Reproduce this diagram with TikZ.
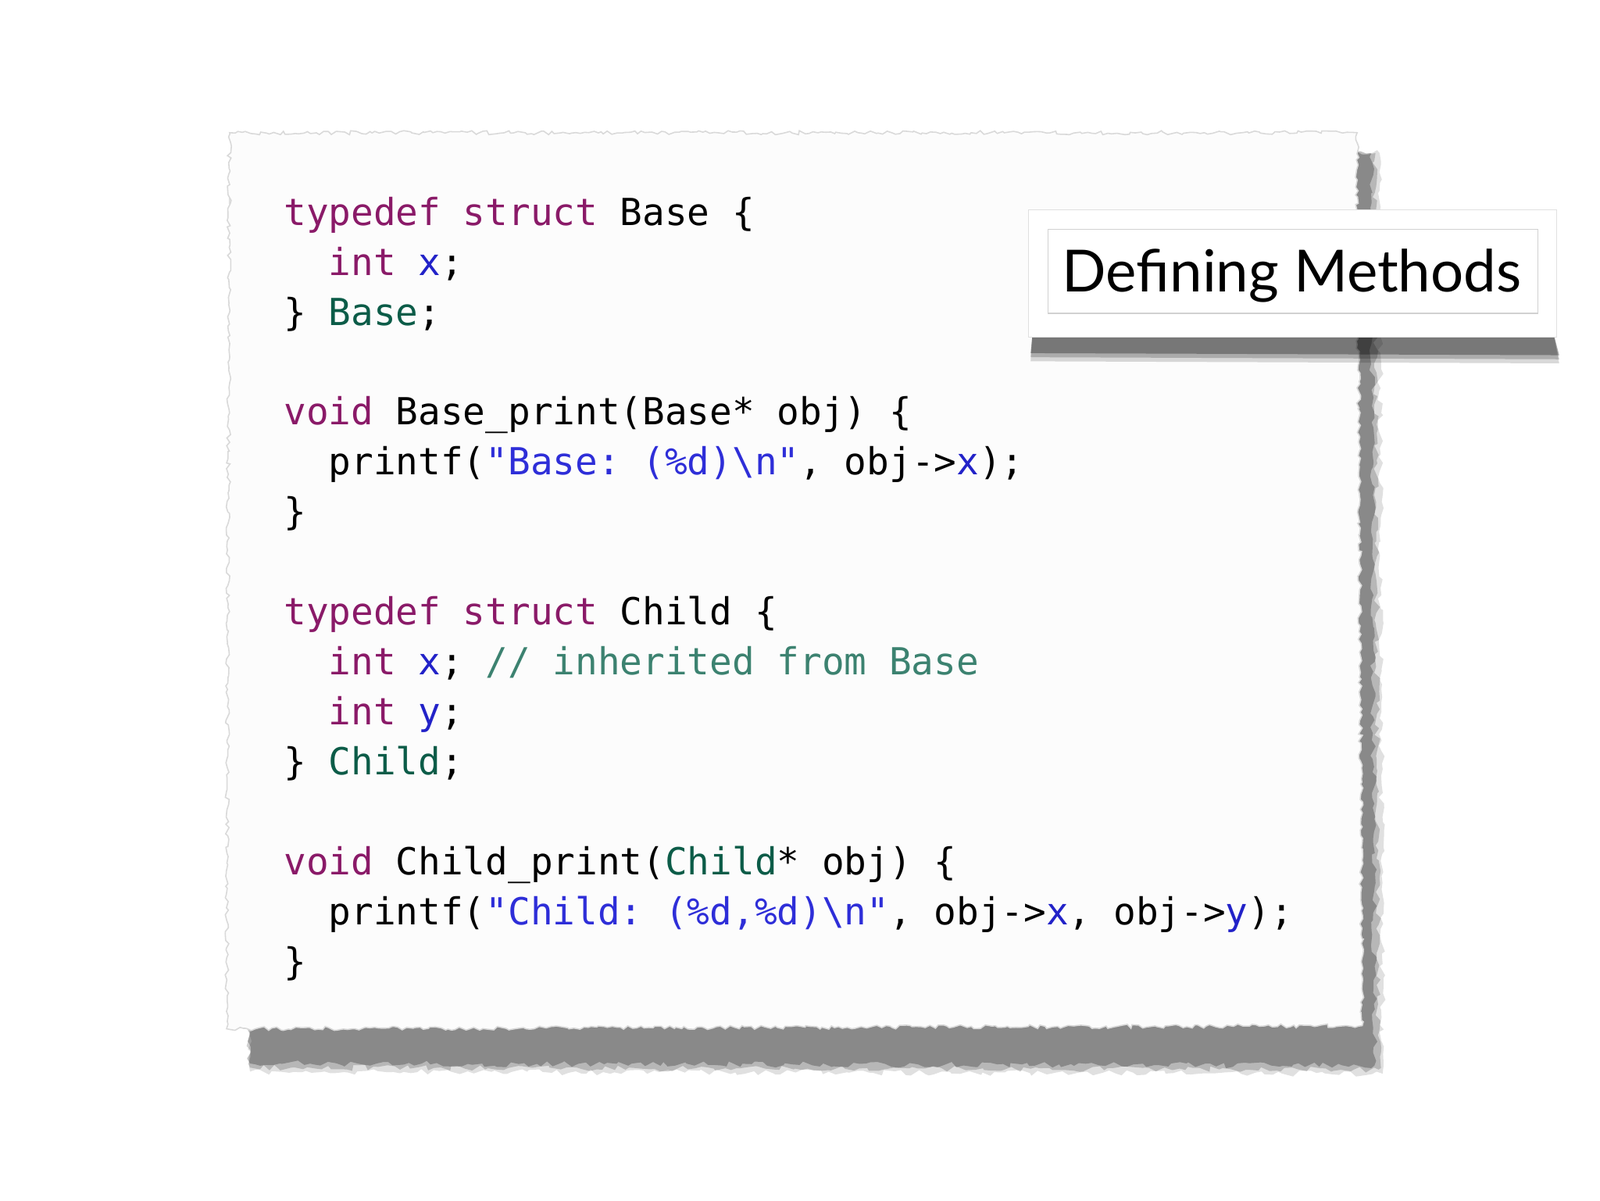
\documentclass[tikz,border=0pt]{standalone}
\usepackage{fontspec}
\setmonofont{DejaVu Sans Mono}
\newfontfamily\titlefont{Lato}
\usetikzlibrary{decorations.pathmorphing,shadows}
\definecolor{kwc}{HTML}{8A1A68}
\definecolor{idc}{HTML}{2222C8}
\definecolor{tyc}{HTML}{0C5C48}
\definecolor{stc}{HTML}{2E2ED8}
\definecolor{cmc}{HTML}{3C8270}
\newcommand\Kw[1]{\textcolor{kwc}{#1}}
\newcommand\Id[1]{\textcolor{idc}{#1}}
\newcommand\Ty[1]{\textcolor{tyc}{#1}}
\newcommand\St[1]{\textcolor{stc}{#1}}
\newcommand\Cm[1]{\textcolor{cmc}{#1}}
\begin{document}
\begin{tikzpicture}[x=1pt,y=-1pt,
  code/.style={anchor=base west,inner sep=0pt,font=\fontsize{36.5}{40}\ttfamily}]
\useasboundingbox[fill=white] (0,0) rectangle (1568,1176);
% paper shadow (soft layers)
\foreach \o/\a in {12/0.12,8/0.18,4/0.25}{
  \fill[black,opacity=\a,decoration={random steps,segment length=6,amplitude=3}]
    decorate{(238-\o,150) -- (1340+\o,150) -- (1343+\o,1040+\o) -- (245,1038+\o) -- cycle};}
% paper
\fill[white!99!black,draw=black!15,line width=1.2,decoration={random steps,segment length=4,amplitude=2}]
  decorate{(225,130) -- (1330,130) -- (1335,1005) -- (222,1008) -- cycle};
% code
\node[code] (n1) at (278,221) {\Kw{typedef struct} Base \{};
\node[code] (n2) at (278,270) {\ \ \Kw{int} \Id{x};};
\node[code] (n3) at (278,319) {\} \Ty{Base};};
\node[code] (n4) at (278,416) {\Kw{void} Base\_print(Base* obj) \{};
\node[code] (n5) at (278,465) {\ \ printf(\St{"Base: (\%d)\textbackslash n"}, obj->\Id{x});};
\node[code] (n6) at (278,514) {\}};
\node[code] (n7) at (278,612) {\Kw{typedef struct} Child \{};
\node[code] (n8) at (278,661) {\ \ \Kw{int} \Id{x}; \Cm{// inherited from Base}};
\node[code] (n9) at (278,710) {\ \ \Kw{int} \Id{y};};
\node[code] (n10) at (278,759) {\} \Ty{Child};};
\node[code] (n11) at (278,857) {\Kw{void} Child\_print(\Ty{Child}* obj) \{};
\node[code] (n12) at (278,906) {\ \ printf(\St{"Child: (\%d,\%d)\textbackslash n"}, obj->\Id{x}, obj->\Id{y});};
\node[code] (n13) at (278,955) {\}};
% title box shadow
\foreach \o/\a in {8/0.15,4/0.2,0/0.3}{
  \fill[black,opacity=\a] (1012,325) -- (1522,325) -- (1528,348+\o) -- (1010,346+\o) -- cycle;}
\fill[white,draw=black!12] (1008,205) rectangle (1525,330);
\draw[black!18,line width=0.8] (1027,225) rectangle (1507,307);
\node[inner sep=0pt,font=\fontsize{57}{60}\titlefont] (title) at (1266,270) {Defining Methods};
\end{tikzpicture}
\end{document}
